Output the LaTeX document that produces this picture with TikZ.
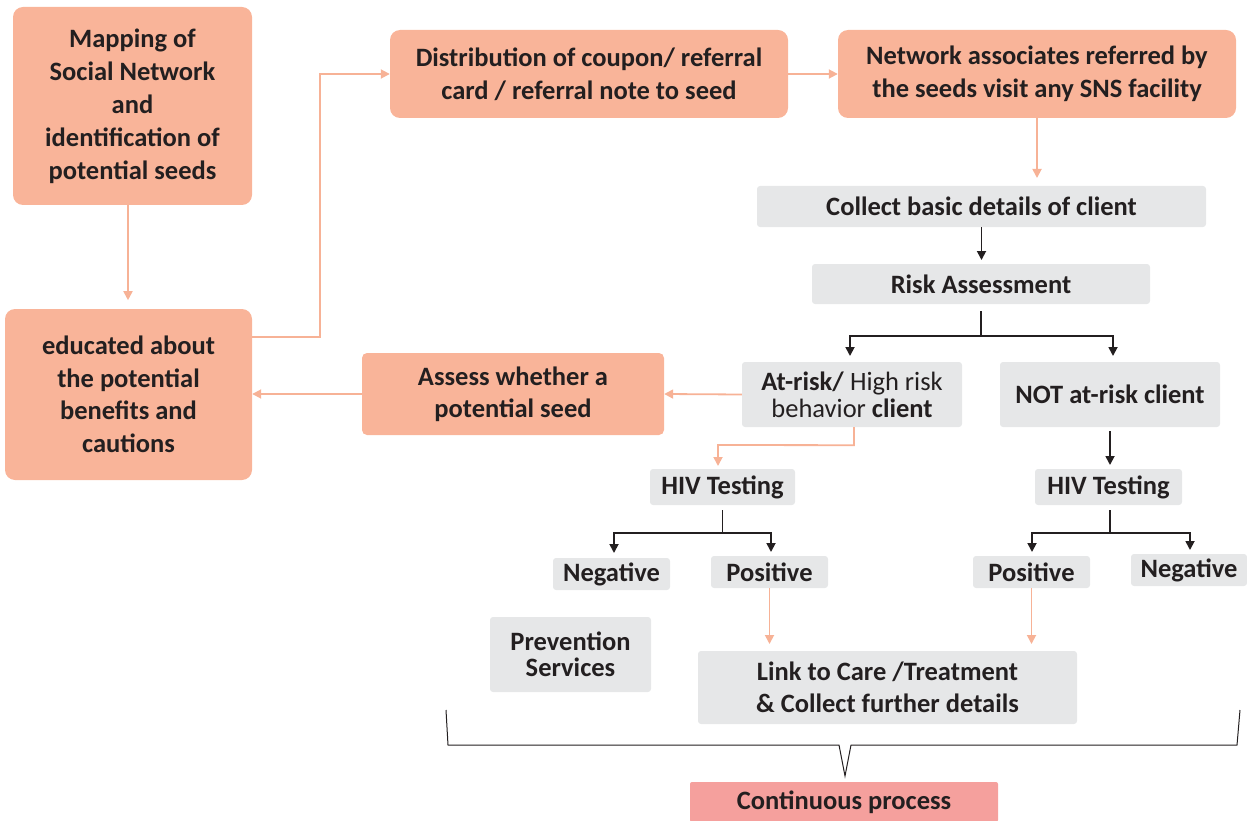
\documentclass[tikz,border=0pt]{standalone}
\usepackage{fontspec}
\setmainfont{Carlito}
\usetikzlibrary{arrows.meta}
\definecolor{orbox}{RGB}{249,180,153}
\definecolor{grbox}{RGB}{230,231,232}
\definecolor{pkbox}{RGB}{245,160,157}
\definecolor{orline}{RGB}{247,178,150}
\definecolor{txt}{RGB}{35,31,32}
\tikzset{
  obox/.style={fill=orbox, rounded corners=10pt, align=center, font=\fontsize{26.5}{33}\selectfont\bfseries, text=txt, inner sep=0pt},
  gbox/.style={fill=grbox, rounded corners=3pt, align=center, font=\fontsize{26.5}{28}\selectfont\bfseries, text=txt, inner sep=0pt},
  oarr/.style={draw=orline, line width=1.8pt, -{Triangle[length=9pt,width=9pt]}},
  barr/.style={draw=txt, line width=1.8pt, -{Triangle[length=9pt,width=9pt]}},
}
\begin{document}
\begin{tikzpicture}[x=1pt,y=-1pt]
\useasboundingbox (0,0) rectangle (1247,821);
% orange boxes
\node[obox, minimum width=239pt, minimum height=198pt] (map) at (132.5,106) {Mapping of\\Social Network\\and\\identification of\\potential seeds};
\node[obox, minimum width=398pt, minimum height=88pt] (dist) at (589,74) {Distribution of coupon/ referral\\card / referral note to seed};
\node[obox, minimum width=398pt, minimum height=88pt] (net) at (1037,74) {Network associates referred by\\the seeds visit any SNS facility};
\node[obox, minimum width=247pt, minimum height=171pt, font=\fontsize{26.5}{32.5}\selectfont\bfseries] (edu) at (128.5,394.5) {educated about\\the potential\\benefits and\\cautions};
\node[obox, rounded corners=5pt, minimum width=302pt, minimum height=82pt, font=\fontsize{26.5}{32}\selectfont\bfseries] (assess) at (513,394) {Assess whether a\\potential seed};
% grey boxes
\node[gbox, minimum width=449pt, minimum height=41pt] (collect) at (981.5,206.5) {Collect basic details of client};
\node[gbox, minimum width=338pt, minimum height=40pt] (risk) at (981,284) {Risk Assessment};
\node[gbox, minimum width=220pt, minimum height=65pt, font=\fontsize{26.5}{27}\selectfont] (atrisk) at (852,394.5) {\textbf{At-risk/} High risk\\behavior \textbf{client}};
\node[gbox, minimum width=220pt, minimum height=65pt] (notrisk) at (1110,394.5) {NOT at-risk client};
\node[gbox, minimum width=145pt, minimum height=36pt] (hivl) at (722.5,487) {HIV Testing};
\node[gbox, minimum width=147pt, minimum height=36pt] (hivr) at (1108.5,487) {HIV Testing};
\node[gbox, minimum width=117pt, minimum height=32pt] (negl) at (611.5,574) {Negative};
\node[gbox, minimum width=117pt, minimum height=32pt] (posl) at (769.5,572) {Positive};
\node[gbox, minimum width=117pt, minimum height=32pt] (posr) at (1031.5,572) {Positive};
\node[gbox, minimum width=116pt, minimum height=32pt] (negr) at (1189,570) {Negative};
\node[gbox, minimum width=161pt, minimum height=75pt, font=\fontsize{26.5}{26}\selectfont\bfseries] (prev) at (570.5,654.5) {Prevention\\Services};
\node[gbox, minimum width=379pt, minimum height=73pt, font=\fontsize{26.5}{32}\selectfont\bfseries] (link) at (887.5,687.5) {Link to Care /Treatment\\\& Collect further details};
\node[fill=pkbox, rounded corners=2pt, minimum width=308pt, minimum height=40pt, font=\fontsize{26.5}{28}\selectfont\bfseries, text=txt, inner sep=0pt] (cont) at (844,802) {Continuous process};
% orange connectors
\draw[oarr] (map.south) ++(-4.5,0) -- ++(0,95);
\draw[oarr] (edu.east |- 0,337) -- (320,337) -- (320,74) -- (dist.west);
\draw[oarr] (dist.east) -- (net.west);
\draw[oarr] (net.south) -- (1037,178);
\draw[oarr] (atrisk.west) -- (assess.east);
\draw[oarr] (assess.west) -- (edu.east |- assess.west);
\draw[oarr] (atrisk.south) ++(2,0) -- ++(0,18) -- (718,445) -- (718,466);
\draw[oarr] (posl.south) -- (769.5,644);
\draw[oarr] (posr.south) -- (1031.5,644);
% black connectors
\draw[barr] (collect.south) -- (981.5,260);
\draw[txt, line width=1.8pt] (981,311) -- (981,336);
\draw[barr] (981,336) -- (850,336) -- (850,356);
\draw[barr] (981,336) -- (1113,336) -- (1113,356);
\draw[barr] (notrisk.south) ++(0,4) -- (1110,465);
\draw[txt, line width=1.8pt] (722.5,510) -- (722.5,533);
\draw[barr] (722.5,533) -- (614,533) -- (614,553);
\draw[barr] (722.5,533) -- (771,533) -- (771,552);
\draw[txt, line width=1.8pt] (1110,510) -- (1110,533);
\draw[barr] (1110,533) -- (1032,533) -- (1032,552);
\draw[barr] (1110,533) -- (1190,533) -- (1190,550);
% bracket
\draw[txt, line width=1pt] (446,710) -- (448,745) -- (839,745) -- (845,776) -- (851,745) -- (1237,745) -- (1240,710);
\end{tikzpicture}
\end{document}
